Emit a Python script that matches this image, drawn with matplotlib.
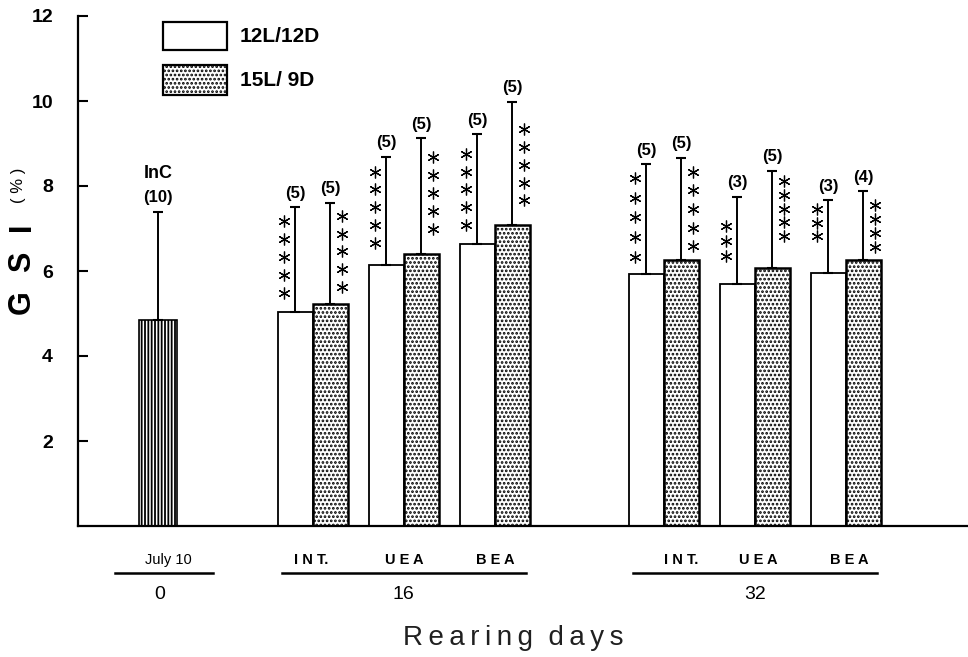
import numpy as np
import matplotlib

matplotlib.use("Agg")
import matplotlib.pyplot as plt
from matplotlib.patches import Rectangle

plt.rcParams["font.family"] = ["Liberation Sans", "DejaVu Sans"]
plt.rcParams["font.weight"] = "bold"
plt.rcParams["hatch.linewidth"] = 1.3

# ---- data ----
inc_mean = 4.85
inc_sd = 2.55
inc_n = 10

sites = ["INT.", "UEA", "BEA"]
days = ["0", "16", "32"]

ld12_d16 = [5.04, 6.14, 6.63]
ld12_d16_sd = [2.46, 2.55, 2.59]
ld15_d16 = [5.22, 6.40, 7.08]
ld15_d16_sd = [2.39, 2.72, 2.90]

ld12_d32 = [5.92, 5.69, 5.95]
ld12_d32_sd = [2.59, 2.06, 1.72]
ld15_d32 = [6.27, 6.08, 6.26]
ld15_d32_sd = [2.40, 2.28, 1.62]

n12_d16 = [5, 5, 5]
n15_d16 = [5, 5, 5]
n12_d32 = [5, 3, 3]
n15_d32 = [5, 5, 4]

stars12_d16 = [5, 5, 5]
stars15_d16 = [5, 5, 5]
stars12_d32 = [5, 3, 3]
stars15_d32 = [5, 5, 4]

# ---- layout ----
W = 1.0                       # bar width (x units)
INC_X = 2.29
GROUP_START = {"16": 5.71, "32": 15.74}
PAIR_STEP = 2.6
# star column: offset of lowest star above bar top, vertical step
STAR_OFF16 = [0.45, 0.40, 0.52, 0.60, 0.45, 0.58]
STAR_STEP16 = [0.42] * 6
STAR_OFF32 = [0.42, 0.31, 0.66, 0.75, 0.87, 0.31]
STAR_STEP32 = [0.46, 0.44, 0.36, 0.32, 0.32, 0.33]
SITE_DX = {"16": [-0.05, 0.0, 0.0], "32": [0.5, 0.1, 0.1]}


def spaced(s, sep=" "):
    return sep.join(s).replace(sep + ".", ".")


fig = plt.figure(figsize=(9.68, 6.57), dpi=100)
ax = fig.add_axes([78 / 968, 1 - 526 / 657, 1 - 78 / 968, 510 / 657])
ax.set_xlim(0, 890 / 35)
ax.set_ylim(0, 12)

for s in ("top", "right"):
    ax.spines[s].set_visible(False)
ax.spines["left"].set_linewidth(1.6)
ax.spines["bottom"].set_linewidth(1.6)
ax.set_yticks([2, 4, 6, 8, 10, 12])
ax.tick_params(axis="y", direction="in", length=7, width=1.5, pad=18,
               labelsize=14)
ax.set_xticks([])

# initial condition bar
ax.bar(INC_X, inc_mean, width=1.08, facecolor="white", edgecolor="black",
       hatch="|||||", lw=1.2)
ax.errorbar(INC_X, inc_mean, yerr=[[0], [inc_sd]], fmt="none", ecolor="black",
            elinewidth=1.4, capsize=3.5, capthick=1.5)
ax.text(INC_X, inc_mean + inc_sd + 0.33, f"({inc_n})", ha="center",
        va="center", fontsize=12)
ax.text(INC_X, inc_mean + inc_sd + 0.9, "InC", ha="center", va="center",
        fontsize=13)


def draw_group(start, m12, sd12, m15, sd15, n12, n15, st12, st15, offs, steps):
    left = start + PAIR_STEP * np.arange(len(m12))
    x12 = left + W / 2
    x15 = left + 1.5 * W
    ax.bar(x12, m12, width=W, facecolor="white", edgecolor="black", lw=1.3)
    ax.bar(x15, m15, width=W, facecolor="white", edgecolor="black", lw=1.8,
           hatch="....")
    for x, m, sd in ((x12, m12, sd12), (x15, m15, sd15)):
        ax.errorbar(x, m, yerr=[np.zeros(len(m)), sd], fmt="none",
                    ecolor="black", elinewidth=1.4, capsize=3.5, capthick=1.5)
    k = 0
    for i in range(len(m12)):
        for x, m, sd, n, ns, side in ((x12[i], m12[i], sd12[i], n12[i], st12[i], -1),
                                      (x15[i], m15[i], sd15[i], n15[i], st15[i], 1)):
            ax.text(x, m + sd + 0.33, f"({n})", ha="center", va="center",
                    fontsize=12)
            ys = m + offs[k] + steps[k] * np.arange(ns)
            ax.plot(np.full(ns, x + side * 0.32), ys, ls="none",
                    marker=(6, 2, 0), ms=8.5, mew=0.9, color="black")
            k += 1
    return left


left16 = draw_group(GROUP_START["16"], ld12_d16, ld12_d16_sd, ld15_d16,
                    ld15_d16_sd, n12_d16, n15_d16, stars12_d16, stars15_d16,
                    STAR_OFF16, STAR_STEP16)
left32 = draw_group(GROUP_START["32"], ld12_d32, ld12_d32_sd, ld15_d32,
                    ld15_d32_sd, n12_d32, n15_d32, stars12_d32, stars15_d32,
                    STAR_OFF32, STAR_STEP32)

# category labels beneath the axis
tr = ax.get_xaxis_transform()
Y_SITE, Y_LINE, Y_DAY = -0.067, -0.093, -0.135
ax.text(INC_X + 0.28, Y_SITE, "July 10", transform=tr, ha="center",
        va="center", fontsize=10.5, fontweight="normal", clip_on=False)
ax.plot([INC_X - 1.23, INC_X + 1.57], [Y_LINE, Y_LINE], transform=tr,
        color="black", lw=1.8, clip_on=False)
ax.text(INC_X + 0.05, Y_DAY, days[0], transform=tr, ha="center", va="center",
        fontsize=14, fontweight="normal", clip_on=False)

for day, left in (("16", left16), ("32", left32)):
    centers = left + W
    for c, s, dx in zip(centers, sites, SITE_DX[day]):
        ax.text(c + dx, Y_SITE, spaced(s), transform=tr, ha="center",
                va="center", fontsize=10.5, clip_on=False)
    ax.plot([left[0] + 0.12, left[-1] + 2 * W - 0.1], [Y_LINE, Y_LINE],
            transform=tr, color="black", lw=1.8, clip_on=False)
    ax.text(centers[1], Y_DAY, day, transform=tr, ha="center", va="center",
            fontsize=14, fontweight="normal", clip_on=False)

thin = "\u2009"
fig.text(513 / 968, 1 - 645 / 657,
         spaced("Rearing", thin) + "  " + spaced("days", thin),
         ha="center", va="baseline", fontsize=20, fontweight="normal",
         color="#202020")

# y label, one letter at a time
for ch, ypx in zip("GSI", (302, 262, 227)):
    fig.text(22 / 968, 1 - ypx / 657, ch, rotation=90, ha="center",
             va="center", fontsize=22)
fig.text(19 / 968, 1 - 185 / 657, "( % )", rotation=90, ha="center",
         va="center", fontsize=12, fontweight="normal")

# legend boxes
fig.add_artist(Rectangle((163 / 968, 1 - 50 / 657), 64 / 968, 28 / 657,
                         transform=fig.transFigure, facecolor="white",
                         edgecolor="black", lw=1.6))
fig.add_artist(Rectangle((163 / 968, 1 - 95 / 657), 64 / 968, 30 / 657,
                         transform=fig.transFigure, facecolor="white",
                         edgecolor="black", lw=1.6, hatch="...."))
fig.text(240 / 968, 1 - 36 / 657, "12L/12D", ha="left", va="center",
         fontsize=15)
fig.text(240 / 968, 1 - 80 / 657, "15L/ 9D", ha="left", va="center",
         fontsize=15)

fig.savefig("out.png", dpi=100)
